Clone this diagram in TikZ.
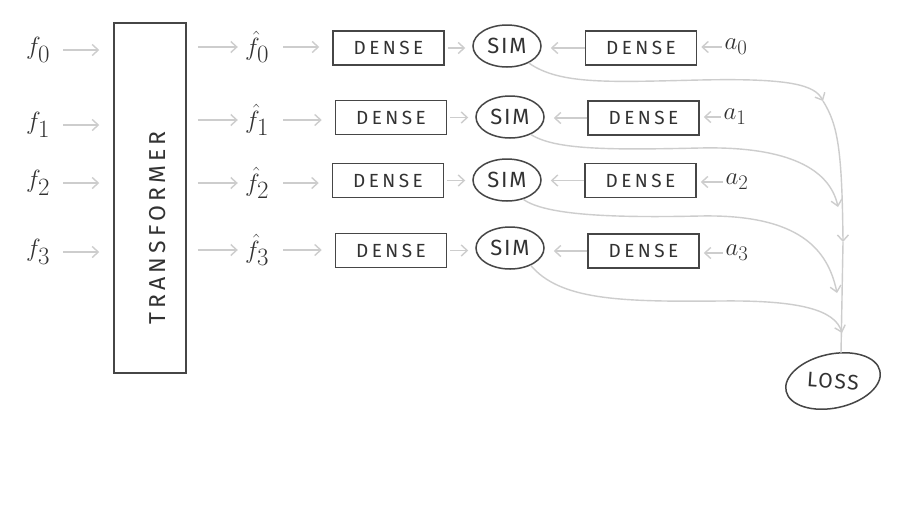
\documentclass[tikz,border=0pt]{standalone}
\usepackage{fontspec}
\setmainfont{Fira Sans}
\newfontfamily\hand{Fira Sans}[LetterSpace=18]
\newfontfamily\handb{Fira Sans}[LetterSpace=8]
\usetikzlibrary{shapes.geometric,arrows.meta}
\definecolor{ink}{RGB}{50,50,50}
\definecolor{boxline}{RGB}{70,70,70}
\definecolor{flow}{RGB}{205,205,205}
\begin{document}
\begin{tikzpicture}[x=1pt,y=-1pt,
  lab/.style={inner sep=0pt,minimum width=36pt,text=ink,font=\fontsize{33}{33}\selectfont},
  alab/.style={inner sep=0pt,minimum width=26pt,text=ink,font=\fontsize{28}{28}\selectfont},
  densebox/.style={draw=boxline,line width=1.5pt,minimum width=111pt,minimum height=34pt,inner sep=0pt,text=ink,font=\hand\fontsize{19}{19}\selectfont},
  simnode/.style={ellipse,draw=boxline,line width=1.5pt,minimum width=68pt,minimum height=42pt,inner sep=0pt,text=ink,font=\handb\fontsize{22}{22}\selectfont},
  flowarrow/.style={draw=flow,line width=1.4pt,-{Straight Barb[length=6pt,width=11pt]}},
  flowline/.style={draw=flow,line width=1.4pt}]
\useasboundingbox (0,0) rectangle (904,512);
\fill[white] (0,0) rectangle (904,512);

% transformer
\node[draw=boxline,line width=1.5pt,minimum width=72pt,minimum height=350pt,inner sep=0pt] (trans) at (150,198) {};
\node[rotate=90,text=ink,font=\hand\fontsize{23}{23}\selectfont] (ttext) at (158,228) {TRANSFORMER};

% inputs
\node[lab] (f0) at (38,50) {$f_0$};
\node[lab] (f1) at (38,125) {$f_1$};
\node[lab] (f2) at (38,183) {$f_2$};
\node[lab] (f3) at (38,252) {$f_3$};

% outputs
\node[lab] (h0) at (257,47) {$\hat{f}_0$};
\node[lab] (h1) at (257,120) {$\hat{f}_1$};
\node[lab] (h2) at (257,183) {$\hat{f}_2$};
\node[lab] (h3) at (257,250) {$\hat{f}_3$};

% left dense
\node[densebox] (d0) at (388.5,48) {DENSE};
\node[densebox] (d1) at (391,117.5) {DENSE};
\node[densebox] (d2) at (388,180.5) {DENSE};
\node[densebox] (d3) at (391,250.5) {DENSE};

% sims
\node[simnode] (s0) at (507,46) {SIM};
\node[simnode] (s1) at (510,117) {SIM};
\node[simnode] (s2) at (507,180) {SIM};
\node[simnode] (s3) at (510,248) {SIM};

% right dense
\node[densebox] (e0) at (641,48) {DENSE};
\node[densebox] (e1) at (643.5,118) {DENSE};
\node[densebox] (e2) at (640.5,180.5) {DENSE};
\node[densebox] (e3) at (643.5,251) {DENSE};

% a labels
\node[alab] (a0) at (736,47) {$a_0$};
\node[alab] (a1) at (735,117) {$a_1$};
\node[alab] (a2) at (737,182) {$a_2$};
\node[alab] (a3) at (737,253) {$a_3$};

% loss
\node[ellipse,draw=boxline,line width=1.5pt,minimum width=96pt,minimum height=54pt,inner sep=0pt,rotate=12] (loss) at (833,381) {};
\node[text=ink,font=\handb\fontsize{21}{21}\selectfont,rotate=-4] (losstext) at (833,381) {LOSS};
\coordinate (lt) at (841,353);

% arrows f -> transformer -> fhat -> dense -> sim
\foreach \i in {0,1,2,3}{
  \draw[flowarrow,shorten <=7pt,shorten >=14pt] (f\i.east) -- (trans.west |- f\i);
  \draw[flowarrow,shorten <=11pt,shorten >=1pt] (trans.east |- h\i) -- (h\i.west);
  \draw[flowarrow,shorten <=8pt,shorten >=13pt] (h\i.east) -- (d\i.west |- h\i);
  \draw[flowarrow,shorten <=3pt,shorten >=7pt] (d\i.east) -- (s\i.west |- d\i);
  \draw[flowarrow,shorten >=9pt] (e\i.west) -- (s\i.east |- e\i);
  \draw[flowarrow,shorten <=1pt,shorten >=4pt] (a\i.west) -- (e\i.east |- a\i);
}

% collector line
\coordinate (c0) at (823,101);
\coordinate (c1) at (838,207);
\coordinate (m1) at (843,242);
\coordinate (c2) at (837,293);
\coordinate (c3) at (842,333);

\draw[flowarrow] (s0.-38) .. controls (560,85) and (610,82) .. (700,80) .. controls (790,78) and (815,85) .. (c0);
\draw[flowarrow] (c0) .. controls (838,125) and (842,150) .. (m1);
\draw[flowline] (m1) -- (lt);
\draw[flowarrow] (s1.-40) .. controls (555,150) and (610,150) .. (700,148) .. controls (790,146) and (830,170) .. (c1);
\draw[flowarrow] (s2.-50) .. controls (545,215) and (610,218) .. (700,216) .. controls (800,214) and (828,250) .. (c2);
\draw[flowarrow] (s3.-40) .. controls (560,300) and (620,302) .. (720,301) .. controls (800,300) and (835,310) .. (c3);
\end{tikzpicture}
\end{document}
